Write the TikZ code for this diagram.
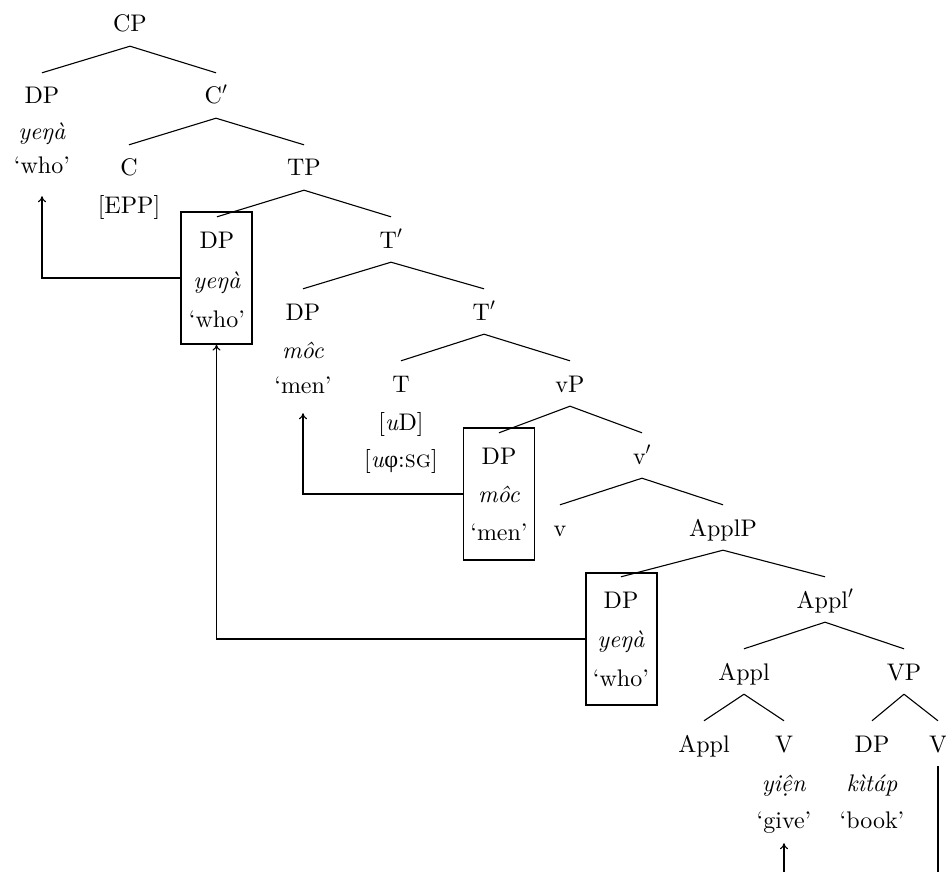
\documentclass[tikz,border=0pt]{standalone}
\usepackage{fontspec}
\setmainfont{lmroman10}[Extension=.otf, UprightFont=*-regular, ItalicFont=*-italic, BoldFont=*-bold, BoldItalicFont=*-bolditalic, SmallCapsFont=lmromancaps10-regular]
\newfontfamily\grk{Liberation Serif}
\usetikzlibrary{arrows.meta}
\begin{document}
\begin{tikzpicture}[x=1pt,y=-1pt,
  every node/.style={font=\fontsize{24}{28}\selectfont},
  lab/.style={anchor=base, inner xsep=0pt, inner ysep=14pt, text height=17pt, text depth=0pt},
  gl/.style={anchor=base, inner sep=0pt, text height=15pt, text depth=5pt},
  edge/.style={line width=1.1pt},
  mbox/.style={draw, line width=1.1pt, minimum width=71pt, minimum height=132pt, inner sep=0pt},
  mv/.style={line width=1.1pt, -{To[length=6pt,width=8pt]}}]
\useasboundingbox (0,0) rectangle (946,872);
% row 0-1
\node[lab] (CP) at (130,32) {CP};
\node[lab] (DPa) at (42,104) {DP};
\node[gl] (DPa1) at (42,140) {\textit{yeŋà}};
\node[gl] (DPa2) at (42,174) {‘who’};
\node[lab] (Cbar) at (216,104) {C$'$};
% row 2
\node[lab] (C) at (129,176) {C};
\node[gl] (C1) at (129,214) {[EPP]};
\node[lab] (TP) at (304,176) {TP};
% row 3
\node[mbox] (box1) at (216.5,278) {};
\node[lab] (DPb) at (217,248) {DP};
\node[gl] (DPb1) at (217,288) {\textit{yeŋà}};
\node[gl] (DPb2) at (217,327) {‘who’};
\node[lab] (Tbar) at (391,248) {T$'$};
% row 4
\node[lab] (DPc) at (303,320) {DP};
\node[gl] (DPc1) at (303,358) {\textit{môc}};
\node[gl] (DPc2) at (303,393) {‘men’};
\node[lab] (Tbarb) at (484,320) {T$'$};
% row 5
\node[lab] (T) at (401,392) {T};
\node[gl] (T1) at (401,430) {[\textit{u}D]};
\node[gl] (T2) at (401,467) {[\textit{u}{\grk φ}:\textsc{sg}]};
\node[lab] (vP) at (570,392) {vP};
% row 6
\node[mbox] (box2) at (499,494) {};
\node[lab] (DPd) at (499,464) {DP};
\node[gl] (DPd1) at (499,502) {\textit{môc}};
\node[gl] (DPd2) at (499,540) {‘men’};
\node[lab] (vbar) at (642,464) {v$'$};
% row 7
\node[lab] (v) at (560,536) {v};
\node[lab] (ApplP) at (723,536) {ApplP};
% row 8
\node[mbox] (box3) at (621.5,639) {};
\node[lab] (DPe) at (621,608) {DP};
\node[gl] (DPe1) at (621,647) {\textit{yeŋà}};
\node[gl] (DPe2) at (621,686) {‘who’};
\node[lab] (Applbar) at (825,608) {Appl$'$};
% row 9
\node[lab] (Appl) at (744,680) {Appl};
\node[lab] (VP) at (904,680) {VP};
% row 10
\node[lab] (Applh) at (704,752) {Appl};
\node[lab] (Va) at (784,752) {V};
\node[gl] (Va1) at (784,791) {\textit{yiện}};
\node[gl] (Va2) at (784,828) {‘give’};
\node[lab] (DPf) at (872,752) {DP};
\node[gl] (DPf1) at (872,791) {\textit{kìtáp}};
\node[gl] (DPf2) at (872,828) {‘book’};
\node[lab] (Vb) at (938,752) {V};
\coordinate (botA) at (784,872);
\coordinate (botB) at (938,872);
% tree edges
\draw[edge] (CP.south) -- (DPa.north);
\draw[edge] (CP.south) -- (Cbar.north);
\draw[edge] (Cbar.south) -- (C.north);
\draw[edge] (Cbar.south) -- (TP.north);
\draw[edge] (TP.south) -- (DPb.north);
\draw[edge] (TP.south) -- (Tbar.north);
\draw[edge] (Tbar.south) -- (DPc.north);
\draw[edge] (Tbar.south) -- (Tbarb.north);
\draw[edge] (Tbarb.south) -- (T.north);
\draw[edge] (Tbarb.south) -- (vP.north);
\draw[edge] (vP.south) -- (DPd.north);
\draw[edge] (vP.south) -- (vbar.north);
\draw[edge] (vbar.south) -- (v.north);
\draw[edge] (vbar.south) -- (ApplP.north);
\draw[edge] (ApplP.south) -- (DPe.north);
\draw[edge] (ApplP.south) -- (Applbar.north);
\draw[edge] (Applbar.south) -- (Appl.north);
\draw[edge] (Applbar.south) -- (VP.north);
\draw[edge] (Appl.south) -- (Applh.north);
\draw[edge] (Appl.south) -- (Va.north);
\draw[edge] (VP.south) -- (DPf.north);
\draw[edge] (VP.south) -- (Vb.north);
% movement arrows
\draw[mv] (box1.west) -| ([yshift=-17pt]DPa2.south);
\draw[mv] (box2.west) -| ([yshift=-15pt]DPc2.south);
\draw[mv] (box3.west) -| (box1.south);
\draw[mv] (botA) -- ([yshift=-10pt]Va2.south);
\draw[edge] (Vb.south) -- (botB);
\end{tikzpicture}
\end{document}
